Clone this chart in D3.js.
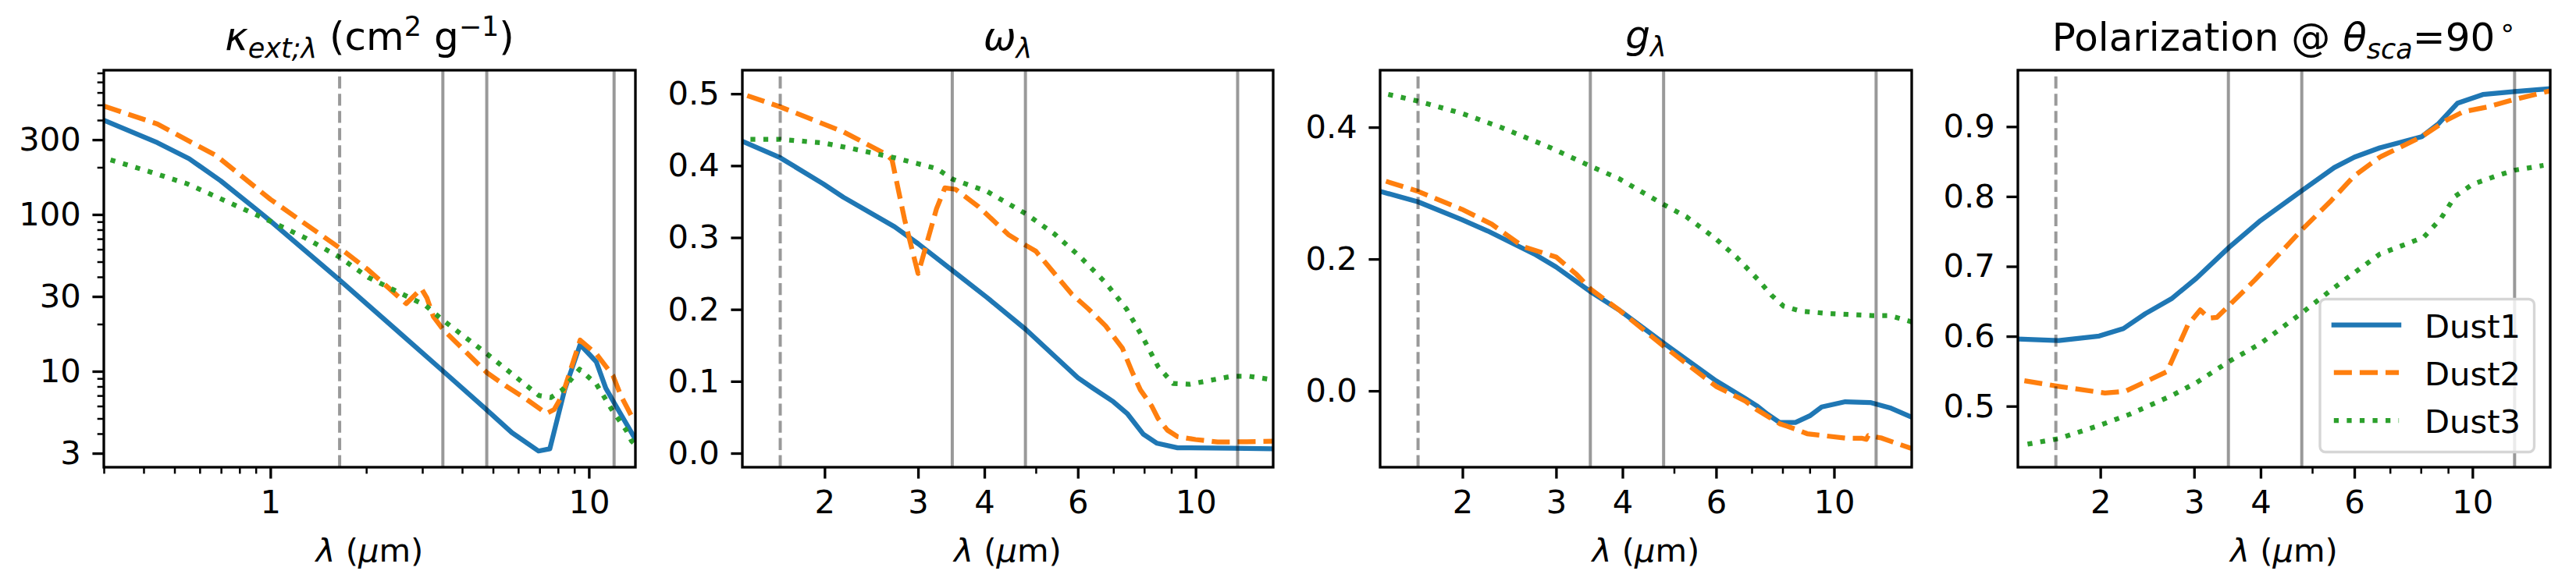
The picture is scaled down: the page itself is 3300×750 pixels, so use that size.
<!DOCTYPE html>
<html><head><meta charset="utf-8">
<script src="https://cdn.jsdelivr.net/npm/d3@7"></script>
<style>
body{margin:0;background:#fff;}
svg text{font-family:"DejaVu Sans",sans-serif;fill:#000;}
</style></head><body>
<svg id="chart" width="3300" height="750" xmlns="http://www.w3.org/2000/svg"></svg>
<script>
// ---------------- DATA ([wavelength um, value]) ----------------
const seriesNames = ["Dust1", "Dust2", "Dust3"];
const vlineDashed = [1.65];
const vlineSolid = [3.48, 4.78, 12.0];

// Panel 1: kappa_ext (cm^2 g^-1)
const kextDust1 = [[0.3,399],[0.442,287],[0.556,227],[0.698,164],[0.892,110],[1.0,91],[1.64,38.6],[3.49,10.0],[4.79,5.65],[5.73,4.06],[6.95,3.1],[7.54,3.2],[8.39,7.6],[9.39,14.8],[10.55,11.5],[11.3,7.8],[11.95,6.4],[14,3.68]];
const kextDust2 = [[0.3,492],[0.442,378],[0.677,237],[1.0,125],[1.64,61.7],[2.03,44.3],[2.67,27.0],[2.98,33.7],[3.10,29.4],[3.25,22.3],[3.49,18.4],[4.79,9.78],[5.48,8.07],[6.27,6.78],[7.36,5.38],[7.78,5.7],[8.25,7.0],[9.39,15.8],[10.55,12.9],[11.9,9.4],[12.6,7.0],[13.6,5.2],[14,4.9]];
const kextDust3 = [[0.315,223],[0.416,188],[0.548,157],[0.765,116],[1.0,90.6],[1.29,70.7],[1.64,53.8],[2.03,39.7],[2.6,31.0],[3.07,26.3],[3.49,21.1],[4.09,16.5],[4.79,12.9],[5.5,10.3],[6.97,7.0],[7.6,6.8],[8.25,7.6],[9.35,10.3],[10.55,8.3],[11.2,6.8],[11.8,5.7],[13.1,4.2],[13.6,3.6],[14,3.4]];

// Panel 2: albedo omega
const albDust1 = [[1.4,0.434],[1.65,0.411],[1.99,0.3745],[2.17,0.356],[2.71,0.315],[3.0,0.2915],[3.49,0.2536],[4.05,0.2163],[4.79,0.172],[6.0,0.105],[6.39,0.091],[7.0,0.0716],[7.43,0.0553],[7.97,0.0264],[8.46,0.0138],[9.25,0.0075],[11.7,0.007],[14,0.006]];
const albDust2 = [[1.43,0.4974],[1.65,0.4818],[2.17,0.447],[2.61,0.416],[2.68,0.408],[2.83,0.325],[3.0,0.25],[3.05,0.268],[3.25,0.34],[3.37,0.369],[3.53,0.367],[3.9,0.343],[4.44,0.304],[4.79,0.289],[5.0,0.281],[5.84,0.2215],[6.28,0.2007],[6.77,0.177],[7.28,0.146],[7.6,0.1125],[7.87,0.088],[8.26,0.066],[8.5,0.048],[8.85,0.032],[9.25,0.023],[10,0.019],[11,0.0155],[12.5,0.016],[14,0.0166]];
const albDust3 = [[1.45,0.4367],[1.65,0.4367],[1.99,0.4315],[2.25,0.4238],[2.71,0.411],[3.25,0.396],[3.49,0.381],[4.05,0.364],[4.79,0.333],[5.43,0.3045],[6.06,0.2733],[6.77,0.237],[7.41,0.2007],[7.98,0.159],[8.5,0.1203],[9.07,0.097],[9.76,0.096],[11.7,0.107],[12.6,0.107],[14,0.102]];

// Panel 3: asymmetry g
const gDust1 = [[1.4,0.3027],[1.65,0.2868],[1.995,0.2597],[2.23,0.2427],[2.73,0.2076],[3.0,0.188],[3.49,0.15],[3.94,0.1228],[4.79,0.0719],[6.0,0.0153],[6.82,-0.0119],[7.15,-0.0224],[7.5,-0.0356],[7.9,-0.048],[8.46,-0.048],[9.0,-0.038],[9.48,-0.0244],[10.5,-0.0165],[11.7,-0.0177],[12.8,-0.0263],[14,-0.040]];
const gDust2 = [[1.436,0.318],[1.65,0.3027],[1.995,0.2755],[2.27,0.2529],[2.6,0.219],[3.0,0.2031],[3.28,0.1765],[3.49,0.154],[3.94,0.1228],[4.79,0.0673],[6.0,0.0068],[6.82,-0.0158],[7.15,-0.0283],[7.9,-0.0498],[8.46,-0.058],[8.9,-0.065],[10.5,-0.0717],[11.3,-0.072],[11.5,-0.0736],[11.6,-0.0677],[12.3,-0.0717],[13.1,-0.0795],[14,-0.0875]];
const gDust3 = [[1.45,0.4498],[1.65,0.4396],[1.995,0.421],[2.36,0.4],[2.93,0.3689],[3.49,0.3406],[3.94,0.322],[4.79,0.2823],[5.28,0.264],[6.0,0.2303],[6.57,0.202],[7.21,0.168],[7.62,0.1454],[8.04,0.1284],[8.66,0.121],[9.84,0.1171],[11.8,0.1143],[12.7,0.1143],[14,0.1047]];

// Panel 4: polarization at 90 deg
const polDust1 = [[1.4,0.596],[1.67,0.5939],[1.99,0.6003],[2.21,0.611],[2.43,0.6323],[2.72,0.6536],[3.03,0.683],[3.49,0.7272],[4.0,0.7656],[4.78,0.8083],[5.5,0.8413],[6.0,0.8563],[6.7,0.8696],[8.03,0.8856],[8.64,0.9043],[9.38,0.9336],[10.46,0.9459],[12.0,0.9501],[14,0.9544]];
const polDust2 = [[1.44,0.5363],[1.67,0.5283],[2.04,0.5187],[2.23,0.5213],[2.67,0.5496],[2.92,0.6163],[3.08,0.6376],[3.2,0.6259],[3.31,0.627],[3.49,0.644],[3.9,0.6803],[4.27,0.7123],[4.78,0.7523],[5.4,0.7923],[6.0,0.8296],[6.7,0.8563],[8.03,0.8856],[8.96,0.9096],[9.62,0.9213],[10.7,0.9283],[12.0,0.9389],[14,0.9512]];
const polDust3 = [[1.46,0.4456],[1.67,0.4536],[1.99,0.4723],[2.27,0.4883],[2.72,0.5149],[3.03,0.5336],[3.49,0.564],[4.0,0.5896],[4.78,0.6333],[5.5,0.6696],[6.0,0.6909],[6.7,0.7176],[7.35,0.7293],[8.1,0.7416],[8.72,0.7683],[9.28,0.8003],[10,0.8173],[11.1,0.8296],[12.0,0.8376],[13.6,0.8445]];

// Tick values
const p1XMajor = [1, 10];
const p1XMinor = [0.3,0.4,0.5,0.6,0.7,0.8,0.9,2,3,4,5,6,7,8,9];
const p1YMajor = [3, 10, 30, 100, 300];
const p1YMinor = [4,5,6,7,8,9,20,40,50,60,70,80,90,200,400,500,600,700,800];
const nirXMajor = [2, 3, 4, 6, 10];
const nirXMinor = [5, 7, 8, 9];
const p2YTicks = [0.0, 0.1, 0.2, 0.3, 0.4, 0.5];
const p3YTicks = [0.0, 0.2, 0.4];
const p4YTicks = [0.5, 0.6, 0.7, 0.8, 0.9];

// ---------------- STYLE ----------------
const colors = ["#1f77b4", "#ff7f0e", "#2ca02c"];
const dashes = [null, "23.1,10", "6.25,10.31"];
const caps = ["square", "butt", "butt"];
const LW = 6.25;
const FS = 41.67, TFS = 50, SFS = 35;
const TOP = 90, BOTTOM = 599;
const MAJ = 14.58, MIN = 8.33, PAD = 14.58;

const panels = [
  {left:133, right:814, xdom:[0.3,14], ylog:true, ydom:[2.443,832.5],
   xMajor:p1XMajor, xMinor:p1XMinor, yMajor:p1YMajor, yMinor:p1YMinor, yFmt:d=>String(d),
   series:[kextDust1,kextDust2,kextDust3],
   title:[{t:"κ",i:1},{t:"ext;λ",i:1,s:"sub"},{t:" (cm"},{t:"2",s:"sup"},{t:" g"},{t:"−1",s:"sup"},{t:")"}], tY:64},
  {left:951, right:1631, xdom:[1.4,14], ylog:false, ydom:[-0.01953,0.53277],
   xMajor:nirXMajor, xMinor:nirXMinor, yMajor:p2YTicks, yMinor:[], yFmt:d3.format(".1f"),
   series:[albDust1,albDust2,albDust3],
   title:[{t:"ω",i:1},{t:"λ",i:1,s:"sub"}], tY:64},
  {left:1768, right:2449, xdom:[1.4,14], ylog:false, ydom:[-0.11586,0.48651],
   xMajor:nirXMajor, xMinor:nirXMinor, yMajor:p3YTicks, yMinor:[], yFmt:d3.format(".1f"),
   series:[gDust1,gDust2,gDust3],
   title:[{t:"g",i:1},{t:"λ",i:1,s:"sub"}], tY:62},
  {left:2585, right:3267, xdom:[1.4,14], ylog:false, ydom:[0.41261,0.98069],
   xMajor:nirXMajor, xMinor:nirXMinor, yMajor:p4YTicks, yMinor:[], yFmt:d3.format(".1f"),
   series:[polDust1,polDust2,polDust3],
   title:[{t:"Polarization @ "},{t:"θ",i:1},{t:"sca",i:1,s:"sub"},{t:"=90"},{t:"∘",s:"sup",dx:5}], tY:65, legend:true}
];

const svg = d3.select("#chart");
svg.append("rect").attr("width",3300).attr("height",750).attr("fill","#fff");
const defs = svg.append("defs");

function styleAxis(g, sw) {
  g.select(".domain").remove();
  g.selectAll(".tick line").attr("stroke","#000").attr("stroke-width",sw);
  g.selectAll(".tick text").style("font-size",FS+"px").style("font-family","'DejaVu Sans', sans-serif").attr("fill","#000");
}

function mathText(parent, x, y, segs, size) {
  const t = parent.append("text").attr("x",x).attr("y",y).attr("text-anchor","middle").style("font-size",size+"px");
  let cur = 0;
  segs.forEach(s => {
    let target = 0, fs = size;
    if (s.s === "sub") { target = 10; fs = SFS; }
    if (s.s === "sup") { target = -18; fs = SFS; }
    const ts = t.append("tspan").text(s.t).style("font-size",fs+"px");
    if (s.i) ts.style("font-style","italic");
    if (target !== cur) { ts.attr("dy", target - cur); cur = target; }
    if (s.dx) ts.attr("dx", s.dx);
  });
  return t;
}

panels.forEach((p, idx) => {
  const g = svg.append("g");
  const x = d3.scaleLog().domain(p.xdom).range([p.left, p.right]);
  const y = (p.ylog ? d3.scaleLog() : d3.scaleLinear()).domain(p.ydom).range([BOTTOM, TOP]);

  const clipId = "clip" + idx;
  defs.append("clipPath").attr("id", clipId).append("rect")
    .attr("x", p.left).attr("y", TOP).attr("width", p.right - p.left).attr("height", BOTTOM - TOP);

  const plot = g.append("g").attr("clip-path", `url(#${clipId})`);
  const line = d3.line().x(d => x(d[0])).y(d => y(d[1])).curve(d3.curveLinear);
  p.series.forEach((s, k) => {
    const path = plot.append("path").datum(s).attr("d", line)
      .attr("fill","none").attr("stroke",colors[k]).attr("stroke-width",LW)
      .attr("stroke-linejoin","round").attr("stroke-linecap",caps[k]);
    if (dashes[k]) path.attr("stroke-dasharray", dashes[k]);
  });

  // reference wavelength lines (drawn over data)
  vlineDashed.forEach(v => {
    plot.append("line").attr("x1",x(v)).attr("x2",x(v)).attr("y1",BOTTOM).attr("y2",TOP)
      .attr("stroke","#000").attr("stroke-opacity",0.4).attr("stroke-width",4)
      .attr("stroke-dasharray","15.4,6.67");
  });
  vlineSolid.forEach(v => {
    plot.append("line").attr("x1",x(v)).attr("x2",x(v)).attr("y1",BOTTOM).attr("y2",TOP)
      .attr("stroke","#000").attr("stroke-opacity",0.4).attr("stroke-width",4);
  });

  // x axis
  const xa = g.append("g").attr("transform",`translate(0,${BOTTOM})`)
    .call(d3.axisBottom(x).tickValues(p.xMajor).tickFormat(d => String(d)).tickSize(MAJ).tickPadding(PAD).tickSizeOuter(0));
  styleAxis(xa, 3.33);
  const xm = g.append("g").attr("transform",`translate(0,${BOTTOM})`)
    .call(d3.axisBottom(x).tickValues(p.xMinor).tickFormat("").tickSize(MIN).tickSizeOuter(0));
  styleAxis(xm, 2.5);

  // y axis
  const ya = g.append("g").attr("transform",`translate(${p.left},0)`)
    .call(d3.axisLeft(y).tickValues(p.yMajor).tickFormat(p.yFmt).tickSize(MAJ).tickPadding(PAD).tickSizeOuter(0));
  styleAxis(ya, 3.33);
  if (p.yMinor.length) {
    const ym = g.append("g").attr("transform",`translate(${p.left},0)`)
      .call(d3.axisLeft(y).tickValues(p.yMinor).tickFormat("").tickSize(MIN).tickSizeOuter(0));
    styleAxis(ym, 2.5);
  }

  // frame
  g.append("rect").attr("x",p.left).attr("y",TOP).attr("width",p.right-p.left).attr("height",BOTTOM-TOP)
    .attr("fill","none").attr("stroke","#000").attr("stroke-width",3.33).attr("stroke-linejoin","miter");

  // title
  mathText(g, (p.left+p.right)/2, p.tY, p.title, TFS);

  // x label
  const xl = g.append("text").attr("x",(p.left+p.right)/2).attr("y",720).attr("text-anchor","middle").style("font-size",FS+"px");
  xl.append("tspan").text("λ").style("font-style","italic");
  xl.append("tspan").text(" (");
  xl.append("tspan").text("μ").style("font-style","italic");
  xl.append("tspan").text("m)");

  // legend
  if (p.legend) {
    const lg = g.append("g");
    lg.append("rect").attr("x",2972).attr("y",383.5).attr("width",274.5).attr("height",196).attr("rx",7).attr("ry",7)
      .attr("fill","#fff").attr("fill-opacity",0.8).attr("stroke","#d6d6d6").attr("stroke-width",3.33);
    const rowsY = [416.7, 477.7, 539];
    seriesNames.forEach((n, k) => {
      const l = lg.append("line").attr("x1",2989.8).attr("x2",3073.1).attr("y1",rowsY[k]).attr("y2",rowsY[k])
        .attr("stroke",colors[k]).attr("stroke-width",LW).attr("stroke-linecap",caps[k]);
      if (dashes[k]) l.attr("stroke-dasharray", dashes[k]);
      lg.append("text").attr("x",3106).attr("y",rowsY[k]+16).style("font-size",FS+"px").text(n);
    });
  }
});
</script>
</body></html>
